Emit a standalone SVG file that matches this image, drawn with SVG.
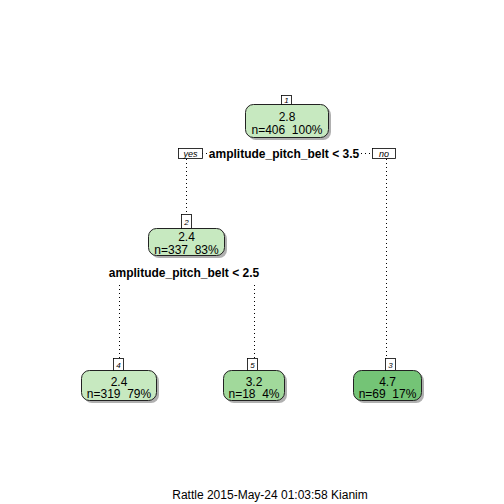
<svg xmlns="http://www.w3.org/2000/svg" width="504" height="504" viewBox="0 0 504 504">
<style>
text{font-family:"Liberation Sans",Arial,sans-serif;fill:#000;white-space:pre}
.v{font-size:12px;text-anchor:middle}
.sp{font-size:12px;font-weight:bold;text-anchor:middle}
.nb{fill:#fff;stroke:#000;stroke-width:0.8}
.nt{font-size:8px;font-style:italic;text-anchor:middle}
.sh{fill:#b0b0b0}
.box{stroke:#222;stroke-width:1}
.yn{font-size:9px;font-style:italic;text-anchor:middle}
.dot{stroke:#000;stroke-width:1;stroke-dasharray:1,3;fill:none}
</style>
<rect width="504" height="504" fill="#fff"/>
<g id="connectors">
<path class="dot" d="M186.5 159V214 M386.5 159V358 M202 153.5H209 M361 153.5H372"/>
<path class="dot" d="M119.5 285V358 M254.5 285V358"/>
</g>
<g id="node1">
<rect class="sh" x="248" y="107" width="83" height="33" rx="8"/>
<rect class="box" x="245.5" y="104.5" width="83" height="33" rx="8" fill="#c7e9c0"/>
<rect class="nb" x="281.5" y="95.5" width="10" height="9"/>
<text class="nt" x="286.5" y="103">1</text>
<text class="v" x="287" y="120.5" xml:space="preserve">2.8</text>
<text class="v" x="287" y="133.5" xml:space="preserve">n=406  100%</text>
</g>
<g id="split1">
<rect class="nb" x="178.5" y="148.5" width="24" height="10"/>
<text class="yn" x="190.5" y="157">yes</text>
<text class="sp" x="284" y="157.5">amplitude_pitch_belt &lt; 3.5</text>
<rect class="nb" x="372.5" y="148.5" width="23" height="10"/>
<text class="yn" x="384" y="157">no</text>
</g>
<g id="node2">
<rect class="sh" x="151" y="231" width="76" height="27" rx="8"/>
<rect class="box" x="148.5" y="228.5" width="76" height="27" rx="8" fill="#c7e9c0"/>
<rect class="nb" x="181.5" y="214.5" width="10" height="14"/>
<text class="nt" x="186.5" y="225">2</text>
<text class="v" x="186.5" y="240.5">2.4</text>
<text class="v" x="186.5" y="253.5" xml:space="preserve">n=337  83%</text>
<text class="sp" x="184" y="277">amplitude_pitch_belt &lt; 2.5</text>
</g>
<g id="node4">
<rect class="sh" x="84" y="373" width="75" height="30" rx="8"/>
<rect class="box" x="81.5" y="370.5" width="75" height="30" rx="8" fill="#c7e9c0"/>
<rect class="nb" x="113.5" y="358.5" width="10" height="12"/>
<text class="nt" x="118.5" y="367.5">4</text>
<text class="v" x="119" y="385.5">2.4</text>
<text class="v" x="119" y="398" xml:space="preserve">n=319  79%</text>
</g>
<g id="node5">
<rect class="sh" x="226" y="373" width="61" height="30" rx="8"/>
<rect class="box" x="223.5" y="370.5" width="61" height="30" rx="8" fill="#a1d99b"/>
<rect class="nb" x="247.5" y="358.5" width="10" height="12"/>
<text class="nt" x="252.5" y="367.5">5</text>
<text class="v" x="254" y="385.5">3.2</text>
<text class="v" x="254" y="398" xml:space="preserve">n=18  4%</text>
</g>
<g id="node3">
<rect class="sh" x="356" y="373" width="68" height="30" rx="8"/>
<rect class="box" x="353.5" y="370.5" width="68" height="30" rx="8" fill="#74c476"/>
<rect class="nb" x="385.5" y="358.5" width="10" height="12"/>
<text class="nt" x="390.5" y="367.5">3</text>
<text class="v" x="387.5" y="385.5">4.7</text>
<text class="v" x="387.5" y="398" xml:space="preserve">n=69  17%</text>
</g>
<text x="270" y="499" font-size="12" text-anchor="middle">Rattle 2015-May-24 01:03:58 Kianim</text>
</svg>
